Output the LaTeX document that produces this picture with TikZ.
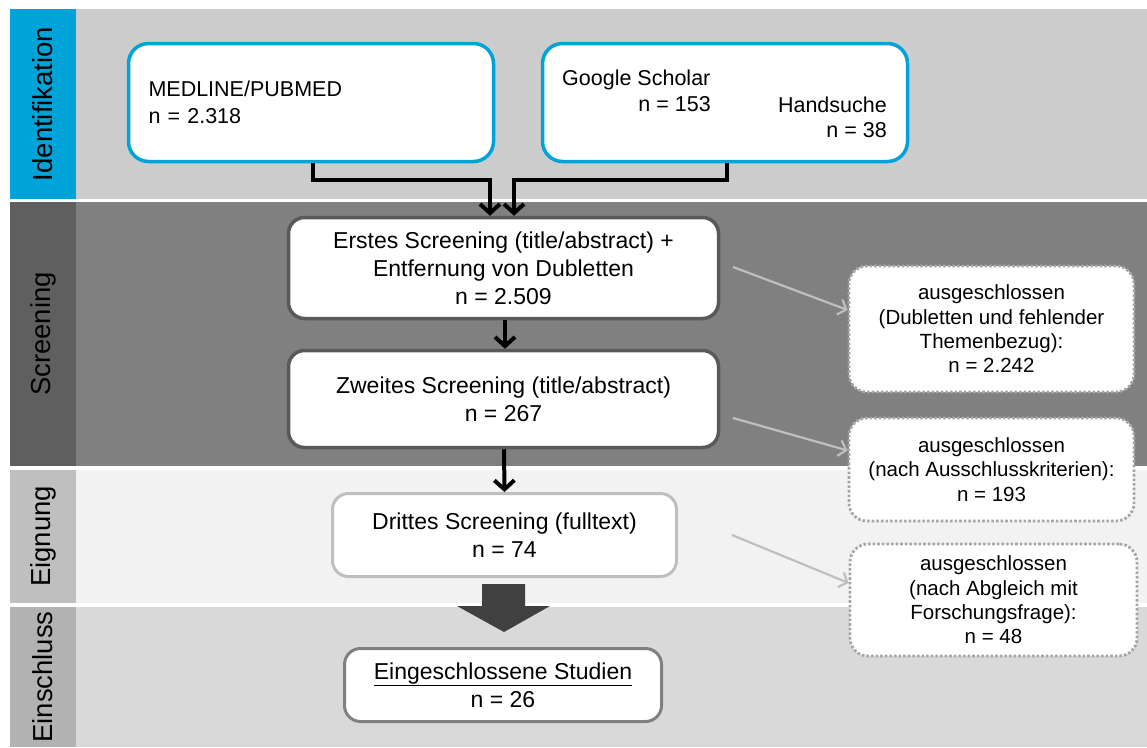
\documentclass[tikz,border=0pt]{standalone}
\usepackage{fontspec}
\setmainfont{Liberation Sans}
\usetikzlibrary{arrows.meta}

\definecolor{idblue}{HTML}{00A3D7}
\definecolor{idband}{HTML}{CCCCCC}
\definecolor{scrlabel}{HTML}{5F5F5F}
\definecolor{scrband}{HTML}{808080}
\definecolor{eiglabel}{HTML}{BFBFBF}
\definecolor{eigband}{HTML}{F2F2F2}
\definecolor{einlabel}{HTML}{B2B2B2}
\definecolor{einband}{HTML}{D9D9D9}
\definecolor{darkborder}{HTML}{595959}
\definecolor{lightborder}{HTML}{BFBFBF}
\definecolor{midborder}{HTML}{808080}
\definecolor{dotborder}{HTML}{A6A6A6}
\definecolor{blockarrow}{HTML}{404040}
\definecolor{thinarrow}{HTML}{BFBFBF}

\tikzset{
  phase/.style={rotate=90, font=\fontsize{27.5}{31}\selectfont, inner sep=0pt},
  srcbox/.style={draw=idblue, line width=3.5pt, fill=white, rounded corners=20pt,
    minimum width=365pt, minimum height=118pt, inner sep=0pt},
  stagebox/.style={fill=white, rounded corners=16pt, align=center, inner sep=0pt,
    font=\fontsize{23}{28}\selectfont},
  exbox/.style={draw=dotborder, line width=2.8pt, dash pattern=on 2.6pt off 2pt,
    fill=white, rounded corners=18pt, align=center, inner sep=0pt,
    font=\fontsize{20.5}{24.3}\selectfont},
  srctext/.style={font=\fontsize{21.5}{27}\selectfont, inner sep=0pt},
  flow/.style={line width=4pt, -{Straight Barb[length=9pt,width=20pt]}},
  skip/.style={draw=thinarrow, line width=2.2pt, -{Straight Barb[length=7pt,width=16pt]}},
}

\begin{document}
\begin{tikzpicture}[x=1pt, y=-1pt]
  \useasboundingbox (0,0) rectangle (1147,747);
  \fill[white] (0,0) rectangle (1147,747);

  % phase bands
  \fill[idblue]   (10,9)   rectangle (76,199);
  \fill[idband]   (76,9)   rectangle (1147,199);
  \fill[scrlabel] (10,202) rectangle (76,466);
  \fill[scrband]  (76,202) rectangle (1147,466);
  \fill[eiglabel] (10,470) rectangle (76,603);
  \fill[eigband]  (76,470) rectangle (1147,603);
  \fill[einlabel] (10,607) rectangle (76,747);
  \fill[einband]  (76,607) rectangle (1147,747);

  \node[phase] (pid)  at (43,104)   {Identifikation};
  \node[phase] (pscr) at (43,334)   {Screening};
  \node[phase] (peig) at (43,536.5) {Eignung};
  \node[phase] (pein) at (43,677)   {Einschluss};

  % sources
  \node[srcbox, align=left, text width=325pt, font=\fontsize{21.5}{27}\selectfont]
    (med) at (311,102.5) {MEDLINE/PUBMED\\n = 2.318};
  \node[srcbox] (gsb) at (725,102.5) {};
  \node[srctext, anchor=base west] (gs)  at (562,85)  {Google Scholar};
  \node[srctext, anchor=base east] (gsn) at (711,111) {n = 153};
  \node[srctext, anchor=base east] (hs)  at (887,112) {Handsuche};
  \node[srctext, anchor=base east] (hsn) at (887,137) {n = 38};

  % screening stages
  \node[stagebox, draw=darkborder, line width=3.5pt, minimum width=430pt, minimum height=101pt]
    (first) at (503.5,268) {Erstes Screening (title/abstract) +\\Entfernung von Dubletten\\n = 2.509};
  \node[stagebox, draw=darkborder, line width=3.5pt, minimum width=430pt, minimum height=97pt]
    (second) at (503.5,399) {Zweites Screening (title/abstract)\\n = 267};
  \node[stagebox, draw=lightborder, line width=3pt, minimum width=344pt, minimum height=83pt]
    (third) at (504.5,535) {Drittes Screening (fulltext)\\n = 74};
  \node[stagebox, draw=midborder, line width=3pt, minimum width=317pt, minimum height=73pt]
    (incl) at (503,685) {\underline{Eingeschlossene Studien}\\n = 26};

  % exclusions
  \node[exbox, minimum width=285pt, minimum height=126pt] (ex1) at (991.5,329)
    {ausgeschlossen\\(Dubletten und fehlender\\Themenbezug):\\n = 2.242};
  \node[exbox, minimum width=285pt, minimum height=103pt] (ex2) at (991.5,469.5)
    {ausgeschlossen\\(nach Ausschlusskriterien):\\n = 193};
  \node[exbox, minimum width=287pt, minimum height=112pt] (ex3) at (993.5,600)
    {ausgeschlossen\\(nach Abgleich mit\\Forschungsfrage):\\n = 48};

  % main flow
  \draw[flow] ([xshift=2pt]med.south) -- ++(0,17) -| ([xshift=-13.5pt]first.north);
  \draw[flow] ([xshift=2pt]gsb.south) -- ++(0,17) -| ([xshift=10.5pt]first.north);
  \draw[flow] ([xshift=1.5pt]first.south) -- ([xshift=1.5pt]second.north);
  \draw[flow] ([xshift=0.5pt]second.south) -- (third.north);

  % block arrow into the included studies
  \fill[blockarrow] (482,584) -- (525,584) -- (525,606) -- (550,606) -- (504,632)
    -- (457,606) -- (482,606) -- cycle;

  % excluded records
  \coordinate (s1) at (733,267);
  \coordinate (s2) at (733,418);
  \coordinate (s3) at (732,535);
  \draw[skip] (s1) -- ([yshift=19pt]ex1.west);
  \draw[skip] (s2) -- ([yshift=19pt]ex2.west);
  \draw[skip] (s3) -- ([yshift=17pt]ex3.west);
\end{tikzpicture}
\end{document}
